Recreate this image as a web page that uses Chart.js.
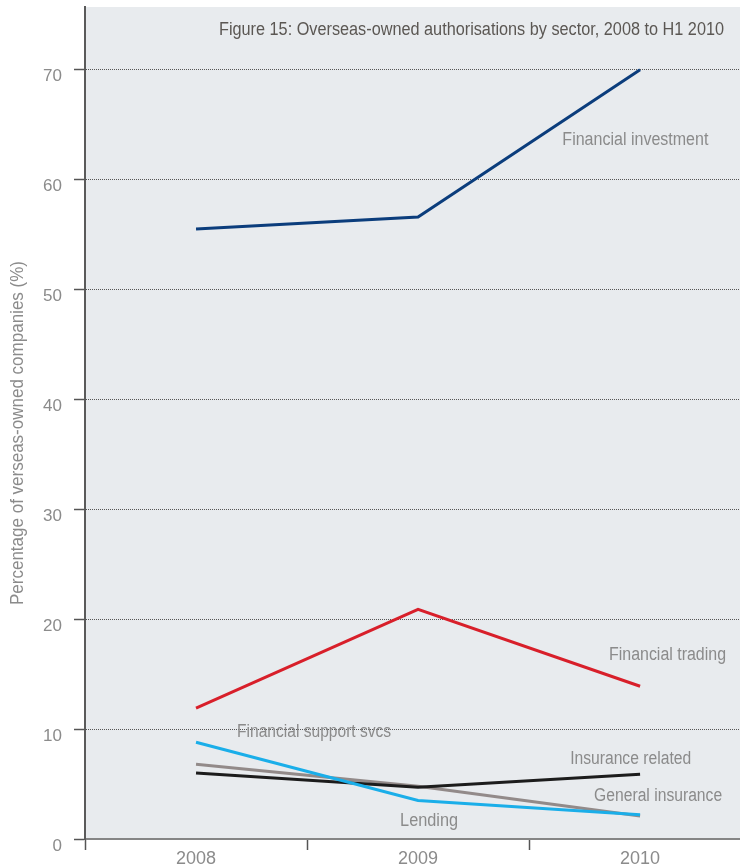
<!DOCTYPE html>
<html>
<head>
<meta charset="utf-8">
<script src="https://cdn.jsdelivr.net/npm/chart.js@4"></script>
<style>
  html, body { margin: 0; padding: 0; background: #ffffff; }
  #wrap { width: 740px; height: 866px; position: relative; }
</style>
</head>
<body>
<div id="wrap"><canvas id="chart"></canvas></div>
<script>
// Years on the x axis
const years = ['2008', '2009', '2010'];

// Share of overseas-owned companies (%) by sector
const financialInvestment = [55.5, 56.6, 70.0];
const financialTrading = [11.9, 20.9, 13.9];
const lending = [8.8, 3.5, 2.2];
const generalInsurance = [6.8, 4.8, 2.1];
const insuranceRelated = [6.0, 4.7, 5.9];

// Y axis tick values
const yTicks = [0, 10, 20, 30, 40, 50, 60, 70];

const FONT = '"Liberation Sans Narrow", "Liberation Sans", "Open Sans", sans-serif';
const LABEL_GREY = '#8b8b8b';

const toPoints = arr => arr.map((v, i) => ({ x: i, y: v }));

// Series names drawn next to their lines (anchored in data units, left-aligned, condensed to width w)
const seriesLabels = [
  { text: 'Financial investment', x: 1.65, y: 63.6, w: 146 },
  { text: 'Financial trading', x: 1.86, y: 16.75, w: 117 },
  { text: 'Financial support svcs', x: 0.185, y: 9.74, w: 154 },
  { text: 'Insurance related', x: 1.685, y: 7.28, w: 121 },
  { text: 'General insurance', x: 1.793, y: 3.91, w: 128 },
  { text: 'Lending', x: 0.919, y: 1.64, w: 58 }
];

const decor = {
  id: 'decor',
  beforeDraw(chart) {
    const { ctx, chartArea: a } = chart;
    ctx.save();
    ctx.fillStyle = '#e8ebee';
    ctx.fillRect(a.left, a.top, a.right - a.left, a.bottom - a.top);
    ctx.restore();
  },
  afterDatasetsDraw(chart) {
    const { ctx, chartArea: a, scales } = chart;
    ctx.save();
    // Title
    ctx.fillStyle = '#5b5753';
    ctx.font = '18px ' + FONT;
    ctx.textAlign = 'right';
    ctx.textBaseline = 'middle';
    ctx.fillText('Figure 15: Overseas-owned authorisations by sector, 2008 to H1 2010', a.right - 16, a.top + 23, 505);

    // Series labels
    ctx.fillStyle = LABEL_GREY;
    ctx.font = '18px ' + FONT;
    ctx.textAlign = 'left';
    seriesLabels.forEach(l => {
      ctx.fillText(l.text, scales.x.getPixelForValue(l.x), scales.y.getPixelForValue(l.y), l.w);
    });

    // Y axis title
    ctx.translate(18, 433);
    ctx.rotate(-Math.PI / 2);
    ctx.textAlign = 'center';
    ctx.font = '18px ' + FONT;
    ctx.fillText('Percentage of verseas-owned companies (%)', 0, 0, 344);
    ctx.restore();
  }
};

const line = (label, data, color) => ({
  label,
  data: toPoints(data),
  borderColor: color,
  backgroundColor: color,
  borderWidth: 3,
  pointRadius: 0,
  tension: 0,
  fill: false
});

new Chart(document.getElementById('chart'), {
  type: 'line',
  data: {
    datasets: [
      line('Lending', lending, '#1aaee9'),
      line('Insurance related', insuranceRelated, '#1c1c1c'),
      line('General insurance', generalInsurance, '#928a89'),
      line('Financial trading', financialTrading, '#d81f2a'),
      line('Financial investment', financialInvestment, '#0b3d7c')
    ]
  },
  options: {
    responsive: true,
    maintainAspectRatio: false,
    animation: false,
    layout: { padding: { top: 7, left: 0, right: 0, bottom: 0 } },
    plugins: {
      legend: { display: false },
      tooltip: { enabled: false }
    },
    scales: {
      x: {
        type: 'linear',
        min: -0.5,
        max: 2.45,
        afterBuildTicks: s => {
          s.ticks = [-0.5, 0, 0.5, 1, 1.5, 2].map(v => ({ value: v }));
        },
        afterFit: s => { s.height = 27; s.paddingLeft = 0; s.paddingRight = 0; },
        ticks: {
          autoSkip: false,
          maxRotation: 0,
          padding: -2,
          color: LABEL_GREY,
          font: { family: FONT, size: 18 },
          callback: v => (Number.isInteger(v) ? years[v] : '')
        },
        grid: {
          drawOnChartArea: false,
          drawTicks: true,
          tickLength: 11,
          tickWidth: 1.5,
          tickColor: c => (Number.isInteger(c.tick.value) ? 'rgba(0,0,0,0)' : '#555555')
        },
        border: { display: true, color: '#858585', width: 2 }
      },
      y: {
        min: 0,
        max: 75.7,
        afterBuildTicks: s => {
          s.ticks = yTicks.map(v => ({ value: v }));
        },
        afterFit: s => { s.width = 85; s.paddingTop = 0; s.paddingBottom = 0; },
        ticks: {
          padding: 12,
          labelOffset: 7,
          color: LABEL_GREY,
          font: { family: FONT, size: 17 }
        },
        grid: {
          drawTicks: true,
          tickLength: 11,
          tickWidth: 1.5,
          tickColor: '#555555',
          tickBorderDash: [],
          lineWidth: 1,
          color: c => (c.tick && c.tick.value === 0 ? 'rgba(0,0,0,0)' : '#555555')
        },
        border: { display: true, color: '#5a5a5a', width: 2, dash: [1, 1] }
      }
    }
  },
  plugins: [decor]
});
</script>
</body>
</html>
